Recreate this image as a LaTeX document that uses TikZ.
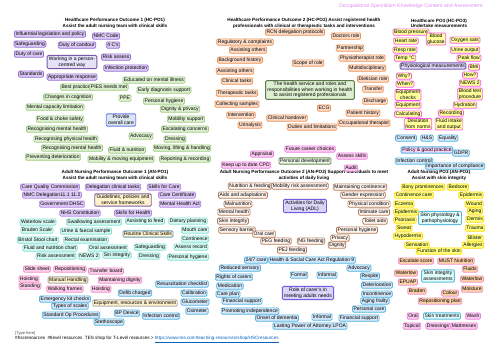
\documentclass[tikz,border=0pt]{standalone}
\usepackage{fontspec}
\setmainfont{Liberation Sans}
\pgfdeclarelayer{back}
\pgfdeclarelayer{lines}
\pgfsetlayers{back,lines,main}
\definecolor{frameC}{HTML}{3CC6F0}
\definecolor{grayF}{HTML}{A0A0A0}
\definecolor{titleC}{HTML}{DD8EF2}
\definecolor{h1F}{HTML}{DBE5F1}
\definecolor{h2F}{HTML}{E2EFDA}
\definecolor{h3F}{HTML}{F8D3F8}
\definecolor{h4F}{HTML}{FDF1C8}
\definecolor{h5F}{HTML}{DAD4F6}
\definecolor{h6F}{HTML}{DDF8F8}
\definecolor{puF}{HTML}{DCC8F4}\definecolor{puD}{HTML}{9470D8}
\definecolor{grF}{HTML}{DDEFD0}\definecolor{grD}{HTML}{9CCB7E}\definecolor{grL}{HTML}{9AB4E0}
\definecolor{orF}{HTML}{FCDCC8}\definecolor{orD}{HTML}{F09050}\definecolor{orL}{HTML}{F8B040}
\definecolor{pkF}{HTML}{FBC8F0}\definecolor{pkD}{HTML}{F080E0}\definecolor{pkL}{HTML}{80C860}
\definecolor{yeF}{HTML}{FFFF99}\definecolor{yeD}{HTML}{FF55FF}
\definecolor{blF}{HTML}{D2E6F7}\definecolor{blD}{HTML}{4AB4E8}
\definecolor{pvF}{HTML}{DCC8F4}\definecolor{pvD}{HTML}{B48AE8}
\definecolor{cyF}{HTML}{D4F8F0}\definecolor{cyD}{HTML}{7FE0D4}\definecolor{cyL}{HTML}{7FDCDA}
\definecolor{mhF}{HTML}{FCCDEA}\definecolor{mhD}{HTML}{F090C8}
\definecolor{brF}{HTML}{FDF3EE}\definecolor{brD}{HTML}{B87850}
\definecolor{roL}{HTML}{5CB8E6}
\definecolor{skF}{HTML}{FFFF80}\definecolor{skD}{HTML}{FFD700}
\definecolor{asF}{HTML}{FCD0A8}\definecolor{asD}{HTML}{F090D0}\definecolor{asL}{HTML}{F8B070}
\definecolor{trF}{HTML}{FBC8F0}\definecolor{trD}{HTML}{E880D8}
\definecolor{creamF}{HTML}{FFF2CC}
\definecolor{urlC}{HTML}{0563C1}
\tikzset{
 nd/.style={rounded corners=1.2pt, inner xsep=1.1pt, inner ysep=0.9pt, font=\fontsize{5}{5.6}\selectfont, line width=0.7pt, align=center, text height=3.5pt, text depth=1pt},
 ml/.style={text height=, text depth=},
 cn/.style={nd, ml, inner xsep=1.8pt, inner ysep=1.5pt, line width=0.9pt},
 ln/.style={line width=0.75pt},
 hd/.style={font=\fontsize{4.6}{5.4}\selectfont\bfseries, align=center},
 hbox/.style={draw=grayF, line width=0.6pt},
 pu/.style={nd, fill=puF, draw=puD}, pul/.style={ln, draw=puD},
 gr/.style={nd, fill=grF, draw=grD}, grl/.style={ln, draw=grL},
 or/.style={nd, fill=orF, draw=orD}, orl/.style={ln, draw=orL},
 pk/.style={nd, fill=pkF, draw=pkD}, pkl/.style={ln, draw=pkL},
 ye/.style={nd, fill=yeF, draw=yeD}, yel/.style={ln, draw=yeD},
 bl/.style={nd, fill=blF, draw=blD}, bll/.style={ln, draw=blD},
 pv/.style={nd, fill=pvF, draw=pvD}, pvl/.style={ln, draw=pvD},
 cy/.style={nd, fill=cyF, draw=cyD}, cyl/.style={ln, draw=cyL},
 mh/.style={nd, fill=mhF, draw=mhD}, mhl/.style={ln, draw=mhD},
 eq/.style={nd, fill=blF, draw=blD}, eql/.style={ln, draw=blD},
 br/.style={nd, fill=brF, draw=brD}, brl/.style={ln, draw=brD},
 ro/.style={nd, fill=blF, draw=blD}, rol/.style={ln, draw=roL},
 sk/.style={nd, fill=skF, draw=skD}, skl/.style={ln, draw=skD},
 as/.style={nd, fill=asF, draw=asD}, asl/.style={ln, draw=asL},
 tr/.style={nd, fill=trF, draw=trD}, trl/.style={ln, draw=trD},
}
\newcommand\lf[6][]{\node[#2,#1] (#3) at (#4) {#5};\begin{pgfonlayer}{lines}\draw[#2l] (#6) -- (#3);\end{pgfonlayer}}
\begin{document}
\begin{tikzpicture}[x=1pt,y=-1pt]
\useasboundingbox (0,0) rectangle (500,354);
\fill[white] (0,0) rectangle (500,354);
% frames
\begin{pgfonlayer}{back}
\draw[frameC, line width=2pt] (11,11) rectangle (489,342);
\fill[h1F] (16,16) rectangle (214,31);
\fill[h2F] (214,16) rectangle (393,31);
\fill[h3F] (393,16) rectangle (485,31);
\fill[h4F] (16,168) rectangle (214,183);
\fill[h5F] (214,168) rectangle (393,183);
\fill[h6F] (393,168) rectangle (485,183);
\draw[hbox] (16,16) rectangle (485,326);
\draw[hbox] (16,31) -- (485,31);
\draw[hbox] (16,168) -- (485,168);
\draw[hbox] (16,183) -- (485,183);
\draw[hbox] (214,16) -- (214,326);
\draw[hbox] (393,16) -- (393,326);
\end{pgfonlayer}
\node[font=\fontsize{5.2}{6}\selectfont, text=titleC, anchor=east] (title) at (486,6) {Occupational Specialism Knowledge Content and Assessment};
\node[hd] (H1) at (115,23.5) {Healthcare Performance Outcome 1 (HC-PO1)\\Assist the adult nursing team with clinical skills};
\node[hd] (H2) at (304,23.5) {Healthcare Performance Outcome 2 (HC-PO2) Assist registered health\\professionals with clinical or therapeutic tasks and interventions};
\node[hd] (H3) at (439,23.5) {Healthcare PO3 (HC-PO3)\\Undertake measurements};
\node[hd] (H4) at (115,175.5) {Adult Nursing Performance Outcome 1 (AN-PO1)\\Assist the adult nursing team with clinical skills};
\node[hd] (H5) at (304,175.5) {Adult Nursing Performance Outcome 2 (AN-PO2) Support individuals to meet\\activities of daily living};
\node[hd] (H6) at (439,175.5) {Adult Nursing PO3 (AN-PO3)\\Assist with skin integrity};
% footer
\node[font=\fontsize{4}{4.5}\selectfont, text=black!70, anchor=west, inner sep=0pt] (typehere) at (15,333) {[Type here]};
\node[font=\fontsize{4.6}{5}\selectfont, anchor=west, inner sep=0pt] (foot) at (15,339.5) {\#hscresources\ \ \#tlevel resources\ \ TES shop for T-Level resources > \textcolor{urlC}{\underline{https://www.tes.com/teaching-resources/shop/HSCresources}}};

% ===== Panel 1 top =====
\node[cn, fill=h5F!70, draw=puD!80!black] (c1) at (72,62) {Working in a person-\\centred way};
\lf{pu}{a1}{50,34}{Influential legislation and policy}{c1}
\lf{pu}{a2}{106,36}{NMC Code}{c1}
\lf{pu}{a3}{30,44}{Safeguarding}{c1}
\lf{pu}{a4}{77,45}{Duty of candour}{c1}
\lf{pu}{a5}{113,45}{4 C's}{c1}
\lf{pu}{a6}{29,54}{Duty of care}{c1}
\lf{pu}{a7}{116,57}{Risk assess}{c1}
\lf{pu}{a8}{126,68}{Infection protection}{c1}
\lf{pu}{a9}{31,74}{Standards}{c1}
\lf{pu}{a10}{72,77}{Appropriate response}{c1}

\node[cn, fill=h1F, draw=grL!70!blue] (c2) at (121,120) {Provide\\overall care};
\lf{gr}{b1}{154,80}{Educated on mental illness}{c2}
\lf{gr}{b2}{76,87}{Best practice}{c2}
\lf{gr}{b3}{109,87}{PIES needs met}{c2}
\lf{gr}{b4}{164,90}{Early diagnosis support}{c2}
\lf{gr}{b5}{68,97}{Changes in cognition}{c2}
\lf{gr}{b6}{125,98}{PPE}{c2}
\lf{gr}{b7}{164,101}{Personal hygiene}{c2}
\lf{gr}{b8}{55,107}{Mental capacity limitation}{c2}
\lf{gr}{b9}{180,109}{Dignity \& privacy}{c2}
\lf{gr}{b10}{60,119}{Food \& choke safety}{c2}
\lf{gr}{b11}{186,119}{Mobility support}{c2}
\lf{gr}{b12}{57,129}{Recognising mental health}{c2}
\lf{gr}{b13}{185,129}{Escalating concerns}{c2}
\lf{gr}{b14}{141,136}{Advocacy}{c2}
\lf{gr}{b15}{66,139}{Recognising physical health}{c2}
\lf{gr}{b16}{175,139}{Dressing}{c2}
\lf{gr}{b17}{72,148}{Recognising mental health}{c2}
\lf{gr}{b18}{127,150}{Fluid \& nutrition}{c2}
\lf{gr}{b19}{182,148}{Moving, lifting \& handling}{c2}
\lf{gr}{b20}{53,157}{Preventing deterioration}{c2}
\lf{gr}{b21}{121,159}{Mobility \& moving equipment}{c2}
\lf{gr}{b22}{185,159}{Reporting \& recording}{c2}

% ===== Panel 2 top =====
\node[cn, fill=grF, draw=grD!60!black] (c3) at (310,90) {The health service and roles and\\responsibilities when working in health\\to assist registered professionals};
\lf{or}{o1}{295,32}{RCN delegation protocols}{c3}
\lf{or}{o2}{346,36}{Doctors role}{c3}
\lf{or}{o3}{245,42}{Regulatory \& complaints}{c3}
\lf{or}{o4}{350,48}{Partnership}{c3}
\lf{or}{o5}{248,50}{Assisting others}{c3}
\lf{or}{o6}{362,58}{Physiotherapist role}{c3}
\lf{or}{o7}{240,60}{Background history}{c3}
\lf{or}{o8}{308,63}{Scope of role}{c3}
\lf{or}{o9}{367,68}{Multidisciplinary}{c3}
\lf{or}{o10}{235,71}{Assisting others}{c3}
\lf{or}{o11}{237,81}{Clinical tasks}{c3}
\lf{or}{o12}{373,79}{Dietician role}{c3}
\lf{or}{o13}{373,89}{Transfer}{c3}
\lf{or}{o14}{237,93}{Therapeutic tasks}{c3}
\lf{or}{o15}{375,101}{Discharge}{c3}
\lf{or}{o16}{237,104}{Collecting samples}{c3}
\lf{or}{o17}{324,108}{ECG}{c3}
\lf{or}{o18}{363,113}{Patient history}{c3}
\lf{or}{o19}{241,115}{Intervention}{c3}
\lf{or}{o20}{287,118}{Clinical handover}{c3}
\lf{or}{o21}{364,123}{Occupational therapist}{c3}
\lf{or}{o22}{250,125}{Urinalysis}{c3}
\lf{or}{o23}{312,127}{Duties and limitations}{c3}

\node[nd, fill=grF!50, draw=grD!70!black, line width=0.9pt] (c4) at (305,161) {Personal development};
\lf{pk}{p1}{310,149}{Future career choices}{c4}
\lf{pk}{p2}{262,154}{Appraisal}{c4}
\lf{pk}{p3}{246,165}{Keep up to date CPD}{c4}
\lf{pk}{p4}{352,156}{Assess skills}{c4}
\lf{pk}{p5}{351,168}{Audit}{c4}

% ===== Panel 3 top =====
\node[nd, fill=h5F!90, draw=puD!80!black, line width=0.9pt] (c5) at (433,66) {Physiological measurements};
\lf{ye}{y1}{411,32}{Blood pressure}{c5}
\lf[ml]{ye}{y2}{436,39}{Blood\\glucose}{c5}
\lf{ye}{y3}{406,41}{Heart rate}{c5}
\lf{ye}{y4}{465,40}{Oxygen sats}{c5}
\lf{ye}{y5}{405,50}{Resp rate}{c5}
\lf{ye}{y6}{465,50}{Urine output}{c5}
\lf{ye}{y7}{405,58}{Temp °C}{c5}
\lf{ye}{y8}{469,58}{Peak flow}{c5}
\lf{ye}{y9}{474,67}{BMI}{c5}
\lf{ye}{y10}{404,76}{Why?}{c5}
\lf{ye}{y11}{470,75}{How?}{c5}
\lf{ye}{y12}{405,84}{When?}{c5}
\lf{ye}{y13}{470,83}{NEWS 2}{c5}
\lf[ml]{ye}{y14}{470,94}{Blood test\\procedure}{c5}
\lf[ml]{ye}{y15}{408,95}{Equipment\\checks}{c5}
\lf{ye}{y16}{408,105}{Equipment}{c5}
\lf{ye}{y17}{465,105}{Hydration}{c5}
\lf{ye}{y18}{408,114}{Calculating}{c5}
\lf{ye}{y19}{451,113}{Recording}{c5}
\lf[ml]{ye}{y20}{418,124}{Deviation\\from norms}{c5}
\lf[ml]{ye}{y21}{449,124}{Fluid intake\\and output}{c5}

\node[nd, fill=h3F, draw=blD, line width=0.9pt] (c6) at (427,150) {Policy \& good practice};
\lf{bl}{q1}{406,138}{Consent}{c6}
\lf{bl}{q2}{427,138}{H\&S}{c6}
\lf{bl}{q3}{448,138}{Equality}{c6}
\lf{bl}{q4}{461,153}{GDPR}{c6}
\lf{bl}{q5}{414,161}{Infection control}{c6}
\lf{bl}{q6}{455,166}{Importance of compliance}{c6}

% ===== Panel 1 bottom =====
\node[cn, fill=creamF, draw=pvD!70!black] (c7) at (123,200) {Guidelines, policies and\\service frameworks};
\lf{pv}{g1}{50,187}{Care Quality Commission}{c7}
\lf{pv}{g2}{113,187}{Delegation clinical tasks}{c7}
\lf{pv}{g3}{164,187}{Skills for Care}{c7}
\lf{pv}{g4}{52,195}{NMC Delegation11.1 11.2}{c7}
\lf{pv}{g5}{177,195}{Care Certificate}{c7}
\lf{pv}{g6}{62,204}{Government DHSC}{c7}
\lf{pv}{g7}{180,204}{Mental Health Act}{c7}
\lf{pv}{g8}{80,213}{NHS Constitution}{c7}
\lf{pv}{g9}{133,213}{Skills for Health}{c7}

\node[nd, fill=creamF, draw=blD!60!gray, line width=0.9pt] (c8) at (148,234) {Routine Clinical Skills};
\lf{cy}{r1}{38,222}{Waterlow scale}{c8}
\lf{cy}{r2}{94,222}{Swallowing assessment}{c8}
\lf{cy}{r3}{145,221}{Assisting to feed}{c8}
\lf{cy}{r4}{188,221}{Dietary planning}{c8}
\lf{cy}{r5}{37,230}{Braden Scale}{c8}
\lf{cy}{r6}{86,231}{Urine \& faecal sample}{c8}
\lf{cy}{r7}{195,230}{Mouth care}{c8}
\lf{cy}{r8}{38,240}{Bristol Stool chart}{c8}
\lf{cy}{r9}{86,240}{Rectal examination}{c8}
\lf{cy}{r10}{195,239}{Continence}{c8}
\lf{cy}{r11}{50,248}{Fluid and nutrition chart}{c8}
\lf{cy}{r12}{108,248}{Oral assessment}{c8}
\lf{cy}{r13}{150,247}{Safeguarding}{c8}
\lf{cy}{r14}{191,247}{Assess record}{c8}
\lf{cy}{r15}{56,256}{Risk assessment}{c8}
\lf{cy}{r16}{89,256}{NEWS 2}{c8}
\lf{cy}{r17}{117,255}{Sin integrity}{c8}
\lf{cy}{r18}{149,256}{Dressing}{c8}
\lf{cy}{r19}{188,257}{Personal hygiene}{c8}

\node[nd, fill=creamF, draw=gray!70, line width=0.9pt] (c9) at (68,280) {Manual Handling};
\lf{mh}{m1}{37,269}{Slide sheet}{c9}
\lf{mh}{m2}{70,269}{Repositioning}{c9}
\lf{mh}{m3}{106,271}{Transfer board}{c9}
\lf{mh}{m4}{29,279}{Hoisting}{c9}
\lf{mh}{m5}{120,280}{Maintaining dignity}{c9}
\lf{mh}{m6}{30,286}{Standing}{c9}
\lf{mh}{m7}{65,289}{Walking frames}{c9}
\lf{mh}{m8}{101,289}{Hoisting}{c9}

\node[nd, fill=creamF, draw=gray!60, line width=0.9pt] (c10) at (135,303) {Equipment, resources \& environment};
\lf{eq}{e1}{65,299}{Emergency kit checks}{c10}
\lf{eq}{e2}{135,293}{Defib charged}{c10}
\lf{eq}{e3}{182,284}{Resuscitation checklist}{c10}
\lf{eq}{e4}{70,306}{Types of scales}{c10}
\lf{eq}{e5}{194,293}{Calibration}{c10}
\lf{eq}{e6}{195,302}{Glucometer}{c10}
\lf{eq}{e7}{71,315}{Standard Op Procedures}{c10}
\lf{eq}{e8}{127,313}{BP Device}{c10}
\lf{eq}{e9}{161,316}{Infection control}{c10}
\lf{eq}{e10}{197,311}{Oximeter}{c10}
\lf{eq}{e11}{109,322}{Stethoscope}{c10}

% ===== Panel 2 bottom =====
\node[cn, fill=h5F, draw=puD!80!blue] (c11) at (305,206) {Activities for Daily\\Living (ADL)};
\lf{br}{d1}{250,186}{Nutrition \& feeding}{c11}
\lf{br}{d2}{300,186}{Mobility risk assessment}{c11}
\lf{br}{d3}{243,195}{Aids and adaptations}{c11}
\lf{br}{d4}{238,204}{Malnutrition}{c11}
\lf{br}{d5}{234,212}{Mental health}{c11}
\lf{br}{d6}{233,221}{Skin integrity}{c11}
\lf{br}{d7}{237,230}{Sensory barrier}{c11}
\lf{br}{d8}{264,234}{Oral care}{c11}
\lf{br}{d9}{276,241}{PEG feeding}{c11}
\lf{br}{d10}{311,241}{NG feeding}{c11}
\lf{br}{d11}{292,250}{PEJ feeding}{c11}
\lf{br}{d12}{360,187}{Maintaining continence}{c11}
\lf{br}{d13}{363,195}{Gender expression}{c11}
\lf{br}{d14}{369,204}{Physical condition}{c11}
\lf{br}{d15}{374,212}{Intimate care}{c11}
\lf{br}{d16}{375,221}{Toilet aids}{c11}
\lf{br}{d17}{357,230}{Personal hygiene}{c11}
\lf{br}{d18}{340,238}{Privacy}{c11}
\lf{br}{d19}{337,245}{Dignity}{c11}

\node[cn, fill=h5F, draw=puD!80!blue] (c12) at (308,293) {Role of carer's in\\meeting adults needs};
\lf{ro}{f1}{256,260}{24/7 care}{c12}
\lf{ro}{f2}{312,260}{Health \& Social Care Act Regulation 9}{c12}
\lf{ro}{f3}{240,268}{Reduced sensory}{c12}
\lf{ro}{f4}{299,275}{Formal}{c12}
\lf{ro}{f5}{327,275}{Informal}{c12}
\lf{ro}{f6}{359,268}{Advocacy}{c12}
\lf{ro}{f7}{234,277}{Rights of carers}{c12}
\lf{ro}{f8}{370,276}{Respite}{c12}
\lf{ro}{f9}{230,286}{Medication}{c12}
\lf{ro}{f10}{377,285}{Deterioration}{c12}
\lf{ro}{f11}{228,294}{Care plan}{c12}
\lf{ro}{f12}{377,294}{Incontinence}{c12}
\lf{ro}{f13}{242,301}{Financial support}{c12}
\lf{ro}{f14}{375,301}{Aging frailty}{c12}
\lf{ro}{f15}{250,311}{Promoting independence}{c12}
\lf{ro}{f16}{369,309}{Personal care}{c12}
\lf{ro}{f17}{277,318}{Onset of dementia}{c12}
\lf{ro}{f18}{322,317}{Informal}{c12}
\lf{ro}{f19}{359,318}{Financial support}{c12}
\lf{ro}{f20}{310,326}{Lasting Power of Attorney LPOA}{c12}

% ===== Panel 3 bottom =====
\node[cn, fill=h6F!70!cyan!30, draw=cyan!70!teal!70] (c13) at (440,218) {Skin physiology \&\\pathophysiology};
\lf{sk}{s1}{423,187}{Bony prominences}{c13}
\lf{sk}{s2}{458,187}{Bedsore}{c13}
\lf{sk}{s3}{414,195}{Continence care}{c13}
\lf{sk}{s4}{471,195}{Epidermis}{c13}
\lf{sk}{s5}{404,204}{Eczema}{c13}
\lf{sk}{s6}{474,204}{Wound}{c13}
\lf{sk}{s7}{406,212}{Epidermis}{c13}
\lf{sk}{s8}{475,211}{Aging}{c13}
\lf{sk}{s9}{405,220}{Psoriasis}{c13}
\lf{sk}{s10}{475,219}{Dermis}{c13}
\lf{sk}{s11}{404,228}{Sweat}{c13}
\lf{sk}{s12}{475,228}{Trauma}{c13}
\lf{sk}{s13}{408,236}{Hypodermis}{c13}
\lf{sk}{s14}{475,238}{Blister}{c13}
\lf{sk}{s15}{417,245}{Sensation}{c13}
\lf{sk}{s16}{473,245}{Allergies}{c13}
\lf{sk}{s17}{439,251}{Function of the skin}{c13}

\node[cn, fill=h6F!70!cyan!30, draw=cyan!70!teal!70] (c14) at (438,276) {Skin integrity\\assessments};
\lf{as}{t1}{416,261}{Escalate score}{c14}
\lf{as}{t2}{456,261}{MUST Nutrition}{c14}
\lf{as}{t3}{406,273}{Waterlow}{c14}
\lf{as}{t4}{470,269}{Fluids}{c14}
\lf{as}{t5}{408,282}{EPUAP}{c14}
\lf{as}{t6}{472,279}{Waterlow}{c14}
\lf{as}{t7}{472,289}{Moisture}{c14}
\lf{as}{t8}{417,291}{Braden}{c14}
\lf{as}{t9}{450,293}{Colour}{c14}
\lf{as}{t10}{440,301}{Repositioning plan}{c14}

\node[nd, fill=h6F!70!cyan!30, draw=cyan!70!teal!70, line width=0.9pt] (c15) at (442,316) {Skin treatments};
\lf{tr}{u1}{413,316}{Oral}{c15}
\lf{tr}{u2}{473,316}{Wash}{c15}
\lf{tr}{u3}{412,326}{Topical}{c15}
\lf{tr}{u4}{438,326}{Dressings}{c15}
\lf{tr}{u5}{464,326}{Mattresses}{c15}
\end{tikzpicture}
\end{document}
